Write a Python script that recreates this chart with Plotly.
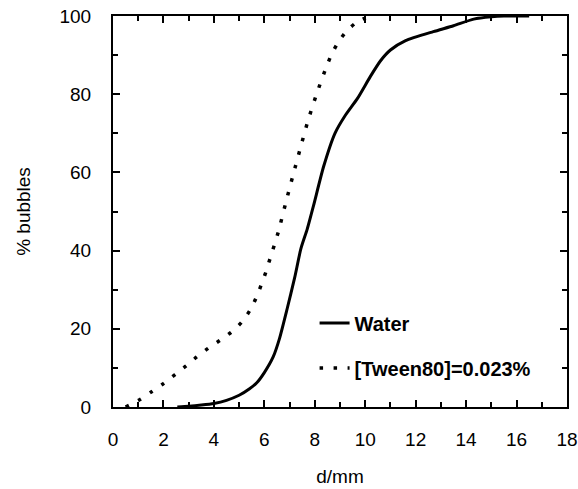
import plotly.graph_objects as go

# Water series (d/mm, % bubbles)
water_d = [2.55, 3.0, 3.5, 4.0, 4.5, 5.0, 5.4, 5.7, 6.0, 6.35, 6.6, 6.9, 7.2, 7.45, 7.7,
           7.95, 8.35, 8.8, 9.2, 9.7, 10.2, 10.6, 11.0, 11.6, 12.7, 13.5, 14.3, 15.0, 15.5, 16.5]
water_pct = [0, 0.2, 0.5, 0.9, 1.7, 3.0, 4.6, 6.2, 8.8, 12.8, 17.5, 25, 33, 40.5, 45.5,
             51.5, 61.5, 70, 74.5, 79, 84.5, 88.5, 91.3, 93.7, 96, 97.5, 99.2, 99.8, 100, 100]

# [Tween80]=0.023% series
tween_d = [0.5, 1.07, 1.53, 2.0, 2.46, 2.9, 3.32, 3.77, 4.23, 4.68, 5.09, 5.42, 5.66, 5.87,
           6.06, 6.23, 6.4, 6.56, 6.84, 7.13, 7.42, 7.72, 8.07, 8.45, 8.66, 8.94, 9.27, 9.7, 10.2]
tween_pct = [0, 1.9, 3.9, 6, 8.3, 10.5, 12.8, 15, 17, 19.1, 21.6, 24.6, 27.7, 31.1,
             34.5, 38, 41.5, 44.9, 52, 59.1, 66, 73, 80, 86.8, 90.1, 93.4, 96.2, 98.6, 100]

x_ticks = [0, 2, 4, 6, 8, 10, 12, 14, 16, 18]
y_ticks = [0, 20, 40, 60, 80, 100]

FONT = "Liberation Sans, Arial, sans-serif"

fig = go.Figure()
fig.add_trace(go.Scatter(
    x=water_d, y=water_pct, mode="lines", name="Water",
    line=dict(color="black", width=3, shape="spline", smoothing=0.6),
    legendgroup="a"))
fig.add_trace(go.Scatter(
    x=tween_d, y=tween_pct, mode="lines", name="[Tween80]=0.023%",
    line=dict(color="black", width=3.5, dash="3.5px,10.5px", shape="spline", smoothing=0.6),
    legendgroup="b"))

axis_common = dict(
    showline=True, linecolor="black", linewidth=2, mirror="ticks",
    ticks="inside", ticklen=7, tickwidth=1.5, tickcolor="black",
    showgrid=False, zeroline=False,
    tickfont=dict(family=FONT, size=19, color="black"),
)

fig.update_xaxes(
    range=[0, 18], tickvals=x_ticks,
    minor=dict(ticks="inside", ticklen=5, dtick=1, tickwidth=1.5, tickcolor="black"),
    ticklabelstandoff=14,
    title=dict(text="d/mm", font=dict(family=FONT, size=19, color="black"), standoff=21),
    **axis_common)
fig.update_yaxes(
    range=[0, 100], tickvals=y_ticks,
    minor=dict(ticks="inside", ticklen=5, dtick=10, tickwidth=1.5, tickcolor="black"),
    ticklabelstandoff=16,
    title=dict(text="% bubbles", font=dict(family=FONT, size=19, color="black"), standoff=24),
    **axis_common)

fig.update_layout(
    width=578, height=489,
    margin=dict(l=113, r=11, t=16, b=82, autoexpand=False),
    paper_bgcolor="white", plot_bgcolor="white",
    showlegend=True,
    legend=dict(x=0.444, y=0.265, xanchor="left", yanchor="top",
                bgcolor="rgba(0,0,0,0)", borderwidth=0,
                font=dict(family=FONT, size=20, color="black", weight="bold"),
                tracegroupgap=16, itemwidth=30),
)

# remove the page's default body margin so the figure fills the window exactly
fig.write_html("out.html", config={"displayModeBar": False},
               post_script="document.body.style.margin='0';")
